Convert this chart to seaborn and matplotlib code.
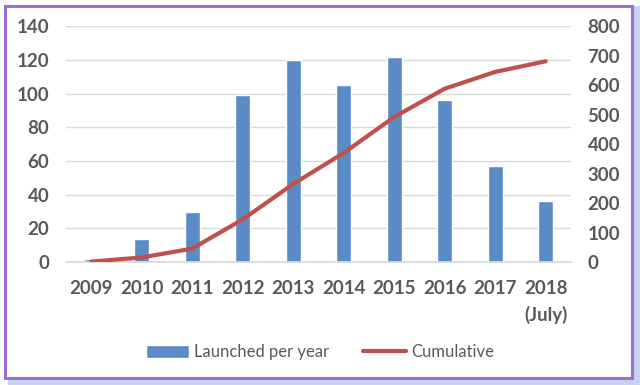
import pandas as pd
import numpy as np
import matplotlib.pyplot as plt
import seaborn as sns
from matplotlib.patches import Rectangle

years = ["2009", "2010", "2011", "2012", "2013", "2014", "2015", "2016", "2017", "2018\n(July)"]
launched = [2, 14, 30, 99, 120, 105, 122, 96, 57, 36]
cumulative = [2, 16, 46, 145, 265, 370, 492, 588, 645, 681]

df = pd.DataFrame({'year': years, 'launched': launched, 'cumulative': cumulative})

sns.set_theme(style="white")
plt.rcParams['font.family'] = ['Lato', 'DejaVu Sans']

fig = plt.figure(figsize=(6.4, 3.85), dpi=100)
ax1 = fig.add_axes([0.103, 0.319, 0.789, 0.613])

sns.barplot(x='year', y='launched', data=df, color='#5B8BC6', width=0.3,
            saturation=1, ax=ax1, label='Launched per year')
ax2 = ax1.twinx()
ax2.plot(np.arange(len(years)), df['cumulative'], color='#C0504D', lw=3,
         label='Cumulative', solid_capstyle='round')
if ax1.get_legend() is not None:
    ax1.get_legend().remove()

ax1.set_xlim(-0.5, 9.5)
ax1.set_ylim(0, 140)
ax2.set_ylim(0, 800)
ax1.set_yticks(range(0, 141, 20))
ax2.set_yticks(range(0, 801, 100))
ax1.yaxis.grid(True, color='#D9D9D9', lw=1)
ax1.set_axisbelow(True)
for ax in (ax1, ax2):
    for s in ax.spines.values():
        s.set_visible(False)
    ax.tick_params(length=0, labelsize=13.5, labelcolor='#595959')
ax1.spines['bottom'].set_visible(True)
ax1.spines['bottom'].set_color('#D9D9D9')
ax1.tick_params(axis='y', pad=12)
ax2.tick_params(axis='y', pad=12)
ax1.tick_params(axis='x', pad=13)
for lab in ax1.get_xticklabels() + ax1.get_yticklabels() + ax2.get_yticklabels():
    lab.set_fontweight('bold')
    lab.set_linespacing(1.55)
ax1.set_xlabel('')
ax1.set_ylabel('')

h1, l1 = ax1.get_legend_handles_labels()
h2, l2 = ax2.get_legend_handles_labels()
fig.legend(h1 + h2, l1 + l2, loc='center', bbox_to_anchor=(0.5, 0.085), ncol=2,
           frameon=False, labelcolor='#595959',
           handlelength=2.6, handleheight=0.9, handletextpad=0.3, columnspacing=2.0,
           prop={'size': 12})

# purple frame with soft shadow
fig.patches.append(Rectangle((0.012, 0.0), 0.988, 0.985, transform=fig.transFigure,
                             facecolor='#C9D2F0', edgecolor='none', zorder=-2))
fig.patches.append(Rectangle((0.008, 0.018), 0.98, 0.967, transform=fig.transFigure,
                             facecolor='white', edgecolor='#9B6FD3', lw=2.2, zorder=-1))

plt.savefig('out.png', dpi=100)
